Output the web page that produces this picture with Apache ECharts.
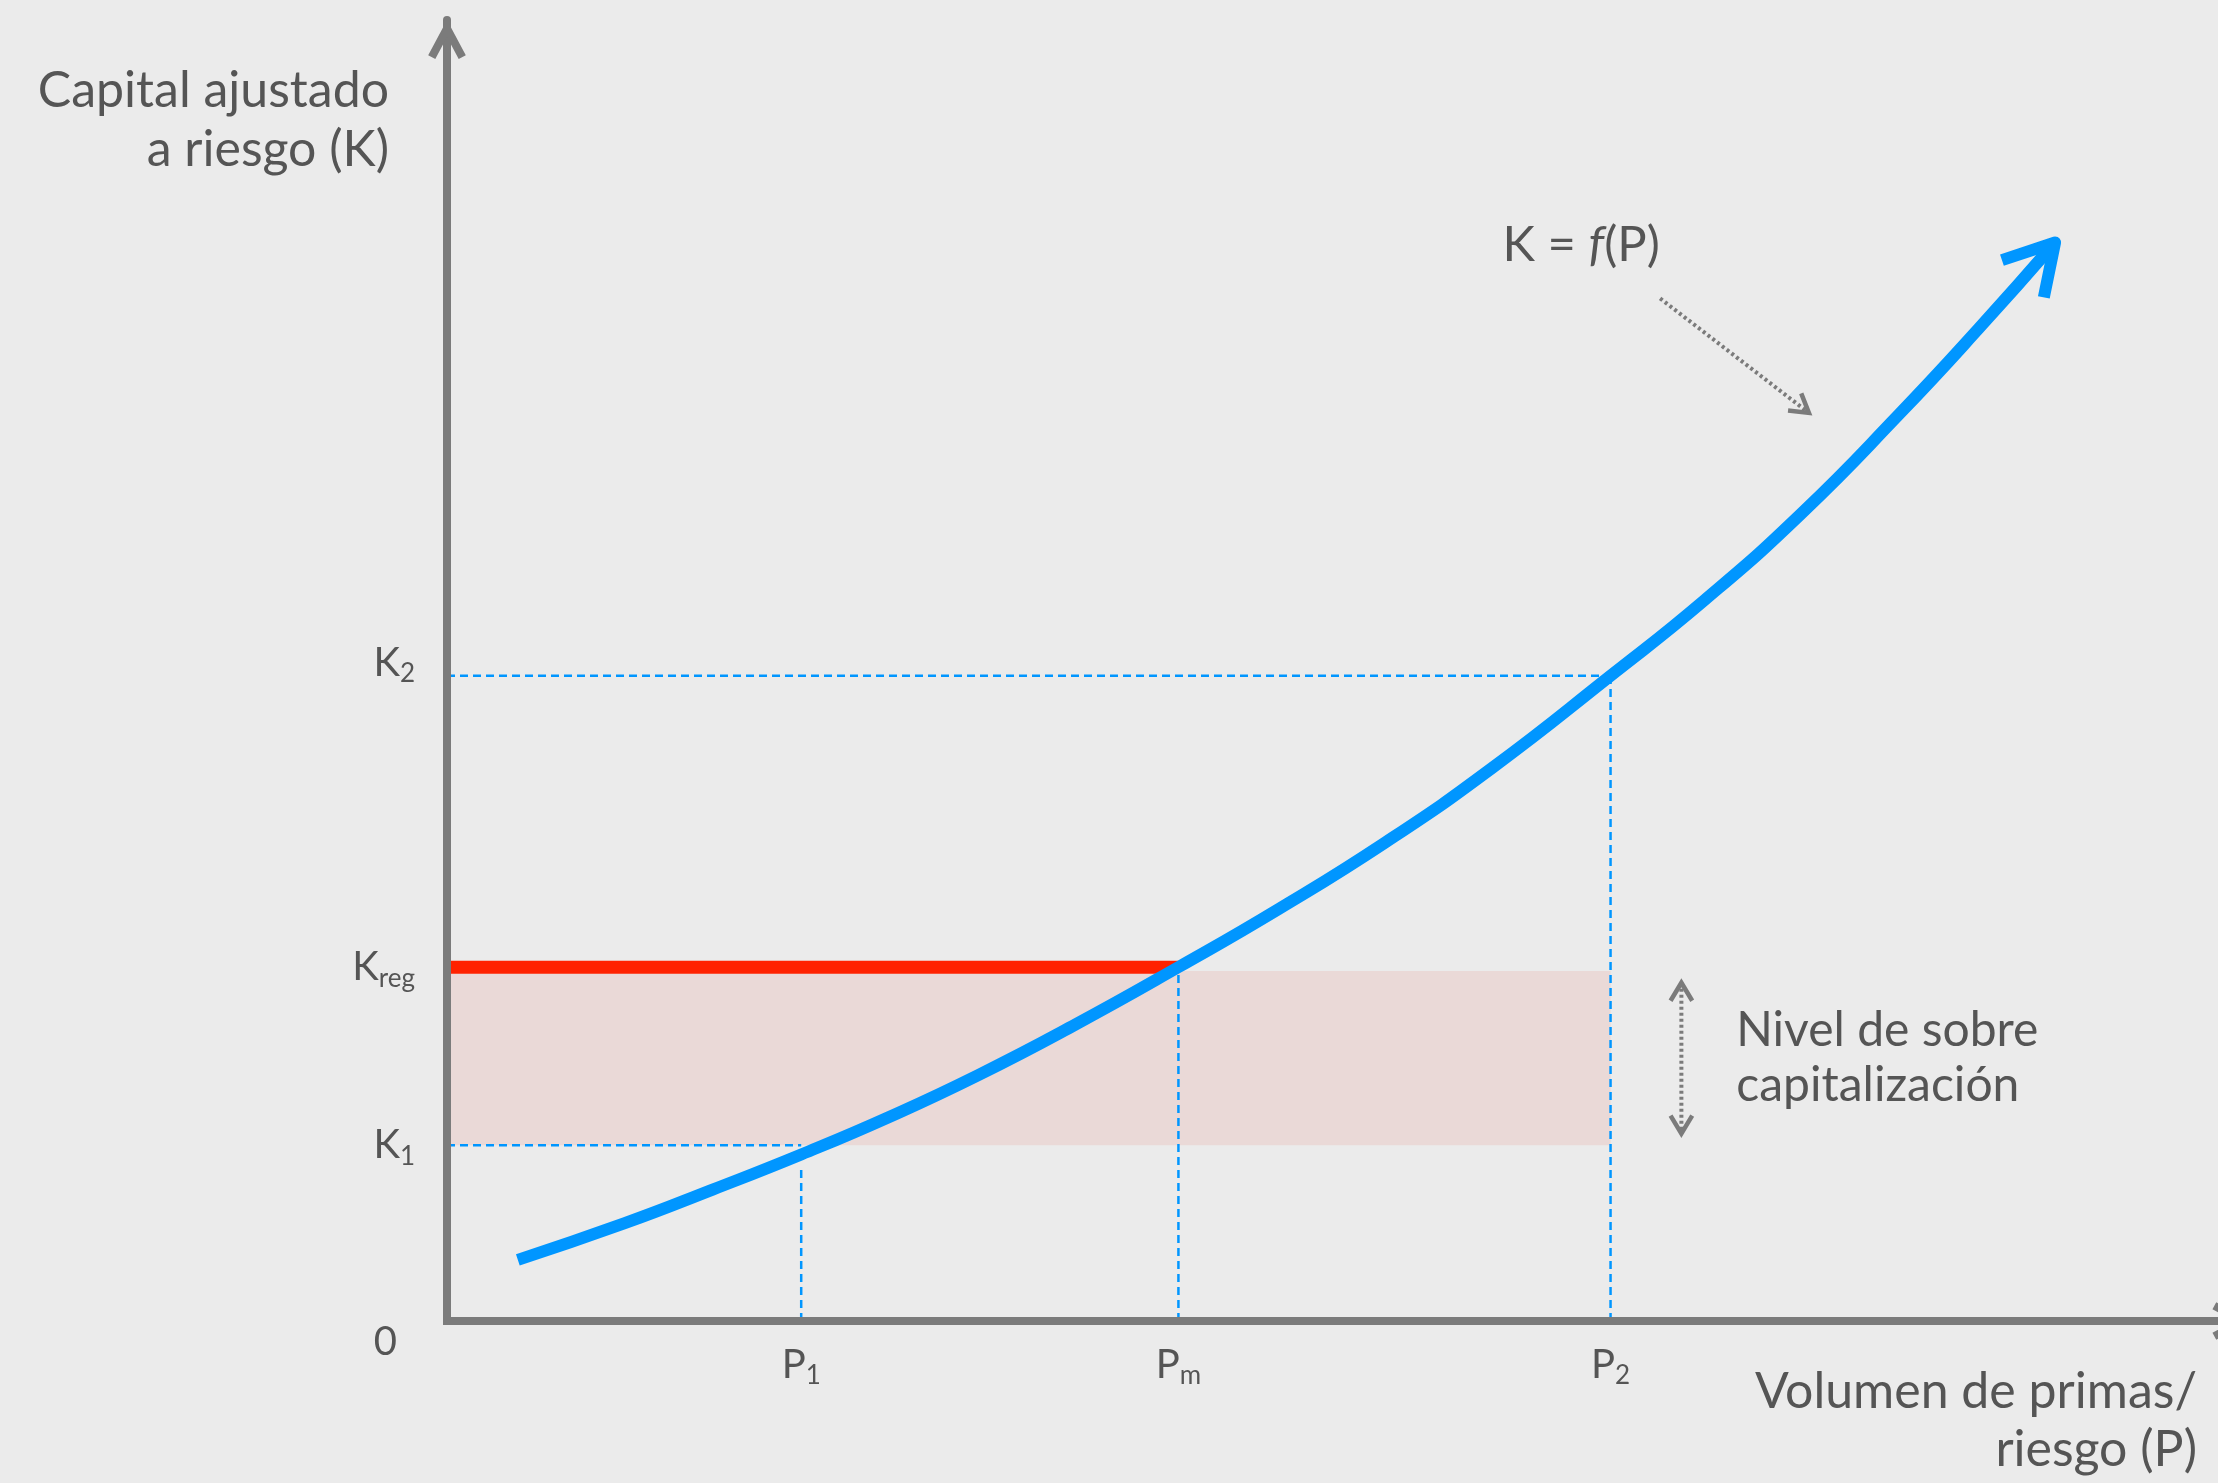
<!DOCTYPE html>
<html>
<head>
<meta charset="utf-8">
<title>Capital ajustado a riesgo</title>
<script src="https://cdn.jsdelivr.net/npm/echarts@6/dist/echarts.min.js"></script>
<style>
  html, body { margin: 0; padding: 0; background: #ebebeb; }
  #main { width: 2218px; height: 1483px; }
</style>
</head>
<body>
<div id="main"></div>
<script>
// axis positions (arbitrary units, both axes 0-100)
const pTicks = [20, 41.3, 65.7]        // P1, Pm, P2
const pNames = ['1', 'm', '2']
const kTicks = [13.5, 27.2, 49.6]      // K1, Kreg, K2
const kNames = ['1', 'reg', '2']
const p1Top = 11.8                     // P1 guide stops under the curve
const bandTop = 26.9                   // shaded band sits just below the red line

// K = f(P)
const curveP = [4, 10, 15, 20, 25, 30, 35.5, 41.3, 47, 53, 59, 65.7, 71, 76.5, 82, 86.5, 90.8]
const curveK = [4.7, 7.5, 10.1, 12.8, 15.7, 18.9, 22.8, 27.2, 31.7, 36.8, 42.5, 49.6, 55.4, 62.1, 69.7, 76.3, 82.9]

// annotations
const noteTexts = ['{a|K = }{i|f}{a|(P)}', 'Nivel de sobre\ncapitalización']
const notePos = [[59.6, 82.7], [72.8, 20.2]]
const pointerArrow = [68.5, 78.6, 76.9, 69.8]
const bandArrow = [69.7, 26.0, 69.7, 14.4]

const font = 'Lato'
const weight = 'normal'
const textColor = '#555555'
const axisColor = '#7b7b7b'
const blue = '#0096ff'
const arrowPath = 'path://M18.8,0 L37.6,35.3 L30.5,39.1 L18.8,17 L7.1,39.1 L0,35.3 Z'

function chevron (tip, from, len, deg) {
  const dx = from[0] - tip[0]
  const dy = from[1] - tip[1]
  const d = Math.hypot(dx, dy)
  const ux = dx / d
  const uy = dy / d
  const r = deg * Math.PI / 180
  const wing = s => [
    tip[0] + len * (ux * Math.cos(s * r) - uy * Math.sin(s * r)),
    tip[1] + len * (ux * Math.sin(s * r) + uy * Math.cos(s * r))
  ]
  return [wing(1), tip, wing(-1)]
}

const tickRich = {
  m: { fontSize: 40, lineHeight: 48, fontFamily: font, fontWeight: weight, color: textColor },
  s: { fontSize: 26, lineHeight: 32, verticalAlign: 'bottom', fontFamily: font, fontWeight: weight, color: textColor },
  gap: { fontSize: 10, lineHeight: 26 },
  z: { fontSize: 40, lineHeight: 48, padding: [42, 18, 0, 0], fontFamily: font, fontWeight: weight, color: textColor }
}

const guides = [
  [[0, kTicks[0]], [pTicks[0], kTicks[0]]],
  [[pTicks[0], 0], [pTicks[0], p1Top]],
  [[pTicks[1], 0], [pTicks[1], kTicks[1]]],
  [[0, kTicks[2]], [pTicks[2], kTicks[2]]],
  [[pTicks[2], 0], [pTicks[2], kTicks[2]]]
]

const chartDom = document.getElementById('main')
const myChart = echarts.init(chartDom)
const n = curveP.length

const option = {
  backgroundColor: '#ebebeb',
  animation: false,
  grid: { left: 447, right: 0, top: 20, bottom: 162 },
  xAxis: {
    type: 'value',
    min: 0,
    max: 100,
    z: 10,
    name: 'Volumen de primas/\nriesgo (P)',
    nameLocation: 'end',
    nameGap: -21,
    nameTextStyle: {
      align: 'right',
      verticalAlign: 'top',
      padding: [42, 0, 0, 0],
      fontSize: 50,
      lineHeight: 58,
      fontFamily: font,
      fontWeight: weight,
      color: textColor
    },
    axisLine: {
      lineStyle: { color: axisColor, width: 8, cap: 'square' },
      symbol: ['none', arrowPath],
      symbolSize: [37.6, 39.1],
      symbolOffset: [0, 14]
    },
    axisTick: { show: false },
    splitLine: { show: false },
    axisLabel: {
      customValues: pTicks,
      margin: 20,
      formatter: function (v) {
        const i = pTicks.indexOf(v)
        return '{m|P}{s|' + pNames[i] + '}'
      },
      rich: tickRich
    }
  },
  yAxis: {
    type: 'value',
    min: 0,
    max: 100,
    z: 10,
    name: 'Capital ajustado\na riesgo (K)',
    nameLocation: 'end',
    nameGap: -41.5,
    nameTextStyle: {
      align: 'right',
      verticalAlign: 'top',
      padding: [0, 58, 0, 0],
      fontSize: 50,
      lineHeight: 59,
      fontFamily: font,
      fontWeight: weight,
      color: textColor
    },
    axisLine: {
      lineStyle: { color: axisColor, width: 8 },
      symbol: ['none', arrowPath],
      symbolSize: [37.6, 39.1],
      symbolOffset: [0, -19.5]
    },
    axisTick: { show: false },
    splitLine: { show: false },
    axisLabel: {
      customValues: [0].concat(kTicks),
      margin: 32,
      formatter: function (v) {
        if (v === 0) return '{z|0}'
        const i = kTicks.indexOf(v)
        const label = '{m|K}{s|' + kNames[i] + '}'
        // K2 sits a little above its guide line
        return i === 2 ? label + '\n{gap| }' : label
      },
      rich: tickRich
    }
  },
  series: [
    {
      name: 'Kreg',
      type: 'line',
      showSymbol: false,
      silent: true,
      lineStyle: { color: '#ff2200', width: 13 },
      data: [[0, kTicks[1]], [pTicks[1], kTicks[1]]],
      markArea: {
        silent: true,
        itemStyle: { color: '#ead9d7' },
        data: [[{ coord: [0, kTicks[0]] }, { coord: [pTicks[2], bandTop] }]]
      }
    }
  ].concat(guides.map(function (g) {
    return {
      type: 'line',
      showSymbol: false,
      silent: true,
      lineStyle: { color: blue, width: 2.5, type: [8, 5] },
      data: g
    }
  })).concat([
    {
      name: 'K = f(P)',
      type: 'line',
      smooth: true,
      showSymbol: false,
      silent: true,
      lineStyle: { color: blue, width: 12, cap: 'butt' },
      data: curveP.map((p, i) => [p, curveK[i]])
    },
    {
      type: 'custom',
      silent: true,
      encode: { x: [0, 2], y: [1, 3] },
      data: [[curveP[n - 2], curveK[n - 2], curveP[n - 1], curveK[n - 1]]],
      renderItem: function (params, api) {
        const a = api.coord([api.value(0), api.value(1)])
        const b = api.coord([api.value(2), api.value(3)])
        return {
          type: 'polyline',
          shape: { points: chevron(b, a, 56, 30) },
          style: { stroke: blue, lineWidth: 12, fill: null, lineJoin: 'round' }
        }
      }
    },
    {
      type: 'custom',
      silent: true,
      encode: { x: [0, 2], y: [1, 3] },
      data: [pointerArrow, bandArrow],
      renderItem: function (params, api) {
        const a = api.coord([api.value(0), api.value(1)])
        const b = api.coord([api.value(2), api.value(3)])
        const st = { stroke: axisColor, lineWidth: 4.5, fill: null }
        const children = [
          { type: 'line', shape: { x1: a[0], y1: a[1], x2: b[0], y2: b[1] }, style: { stroke: axisColor, lineWidth: 4, lineDash: [3, 3] } },
          { type: 'polyline', shape: { points: chevron(b, a, 21, 31) }, style: st }
        ]
        if (params.dataIndex === 1) {
          children.push({ type: 'polyline', shape: { points: chevron(a, b, 21, 31) }, style: st })
        }
        return { type: 'group', children: children }
      }
    },
    {
      type: 'custom',
      silent: true,
      data: notePos,
      renderItem: function (params, api) {
        const p = api.coord([api.value(0), api.value(1)])
        return {
          type: 'text',
          x: p[0],
          y: p[1],
          style: {
            text: noteTexts[params.dataIndex],
            fill: textColor,
            fontFamily: font,
            fontWeight: weight,
            fontSize: 48,
            lineHeight: 55,
            align: 'left',
            verticalAlign: 'middle',
            rich: {
              a: { fontSize: 49, fontFamily: font, fontWeight: weight, fill: textColor },
              i: { fontSize: 49, fontFamily: font, fontWeight: weight, fontStyle: 'italic', fill: textColor }
            }
          }
        }
      }
    }
  ])
}

myChart.setOption(option)
</script>
</body>
</html>
